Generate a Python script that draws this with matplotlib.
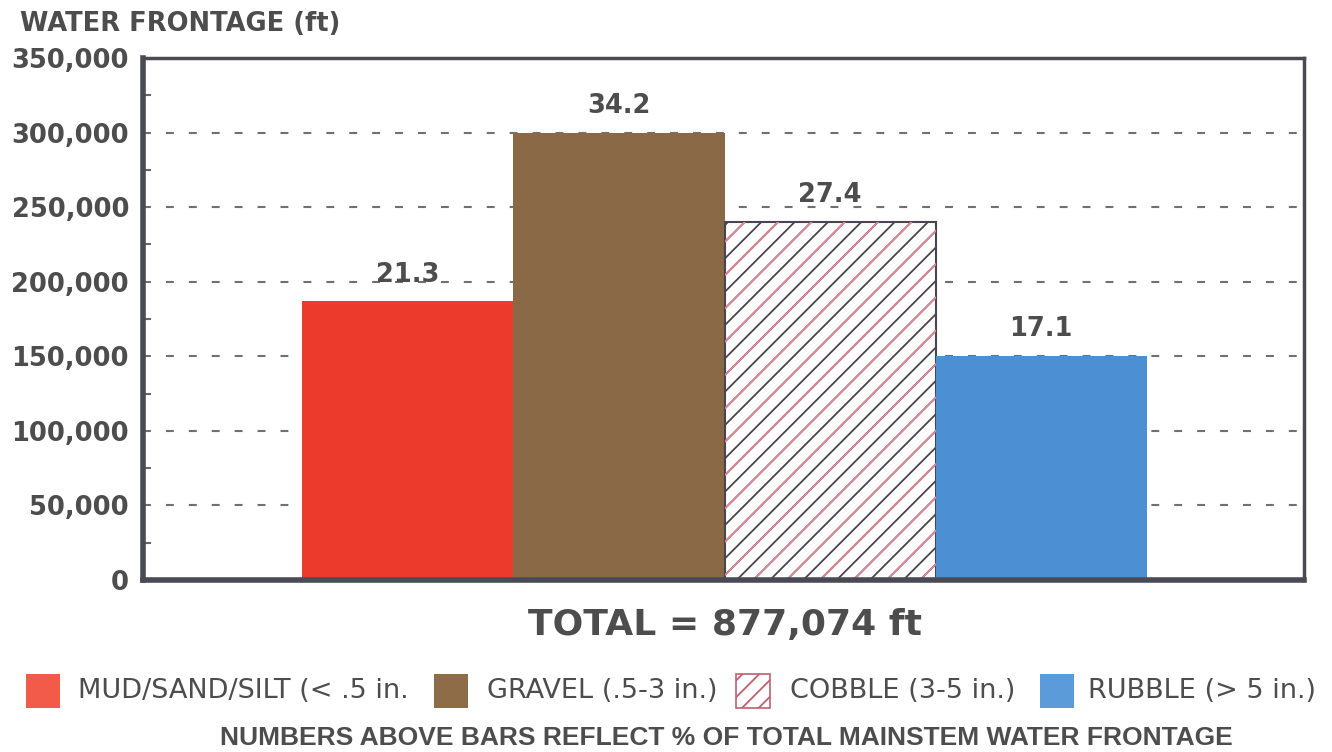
import matplotlib
matplotlib.use("Agg")
import matplotlib.pyplot as plt
from matplotlib.patches import Rectangle
from matplotlib.ticker import MultipleLocator, FuncFormatter

# ---- data ----
categories = ["MUD/SAND/SILT (< .5 in.", "GRAVEL (.5-3 in.)", "COBBLE (3-5 in.)", "RUBBLE (> 5 in.)"]
values = [186800, 300000, 240300, 150000]
percent_labels = ["21.3", "34.2", "27.4", "17.1"]
total_text = "TOTAL = 877,074 ft"
y_ticks = [0, 50000, 100000, 150000, 200000, 250000, 300000, 350000]
y_title = "WATER FRONTAGE (ft)"
footnote = "NUMBERS ABOVE BARS REFLECT % OF TOTAL MAINSTEM WATER FRONTAGE"

# ---- style ----
bar_colors = ["#ec3b2c", "#8a6a46", "white", "#4c8fd3"]
legend_colors = ["#f25a4a", "#8e6c48", "white", "#5b9bd9"]
hatches = [None, None, "//", None]
edgecolors = ["none", "none", "#4a4450", "none"]
txt = "#4d4d4d"
spine_c = "#4a4a55"

W, H = 1332, 752
fig = plt.figure(figsize=(W / 100, H / 100), dpi=100)
plt.rcParams["hatch.linewidth"] = 1.3

def fx(px):
    return px / W

def fy(py):
    return 1 - py / H

ax = fig.add_axes([fx(143), fy(580), fx(1304) - fx(143), fy(58) - fy(580)])

x = list(range(len(values)))
bars = ax.bar(x, values, width=1.0, color=bar_colors, edgecolor=edgecolors,
              linewidth=1.5, zorder=3)
for b, h in zip(bars, hatches):
    if h:
        b.set_hatch(h)
# pink hatch lines interleaved on the cobble bar
hatch_idx = [i for i, h in enumerate(hatches) if h]
over = ax.bar([x[i] for i in hatch_idx], [values[i] for i in hatch_idx],
              width=1.0, color="none", edgecolor="#e48896", linewidth=0,
              hatch="/", zorder=4)

ax.set_xlim(-1.254, 4.244)
ax.set_ylim(0, 350000)
ax.set_yticks(y_ticks)
ax.yaxis.set_major_formatter(FuncFormatter(lambda v, p: f"{int(v):,}"))
ax.yaxis.set_minor_locator(MultipleLocator(25000))
ax.set_xticks([])
ax.tick_params(axis="y", which="major", length=0, pad=10, labelsize=18.5,
               labelcolor=txt)
ax.tick_params(axis="y", which="minor", length=6, width=1.5, direction="in",
               color="#666666")
for lab in ax.get_yticklabels():
    lab.set_fontweight("bold")

ax.grid(axis="y", which="major", linestyle=(0, (3.8, 7.2)), color="#707070",
        linewidth=1.5, zorder=1)

ax.spines["left"].set_linewidth(4)
ax.spines["bottom"].set_linewidth(4)
ax.spines["top"].set_linewidth(2.5)
ax.spines["right"].set_linewidth(2.5)
for s in ax.spines.values():
    s.set_color(spine_c)
    s.set_zorder(5)

for b, lbl in zip(bars, percent_labels):
    ax.annotate(lbl, (b.get_x() + b.get_width() / 2, b.get_height()),
                xytext=(0, 10), textcoords="offset points", ha="center",
                va="bottom", fontsize=18.5, fontweight="bold", color=txt,
                zorder=6)

fig.text(fx(20), fy(24), y_title, fontsize=18.5, fontweight="bold", color=txt,
         ha="left", va="center")
fig.text(fx(725), fy(625), total_text, fontsize=26, fontweight="bold",
         color=txt, ha="center", va="center")

# legend, placed manually
sq = [(26, 60), (434, 468), (736, 770), (1040, 1074)]
tx = [78, 487, 790, 1088]
for (x0, x1), t, c, h, name in zip(sq, tx, legend_colors, hatches, categories):
    r = Rectangle((fx(x0), fy(708)), fx(x1) - fx(x0), fy(674) - fy(708),
                  transform=fig.transFigure, facecolor=c,
                  edgecolor="#c06070" if h else "none", linewidth=1.2)
    if h:
        r.set_hatch("//")
    fig.add_artist(r)
    fig.text(fx(t), fy(691), name, fontsize=19.5, color=txt, ha="left",
             va="center")

fig.text(fx(726), fy(738), footnote, fontsize=19, fontweight="bold", color=txt,
         ha="center", va="center", family="Liberation Sans")

fig.savefig("out.png", dpi=100, facecolor="white")
